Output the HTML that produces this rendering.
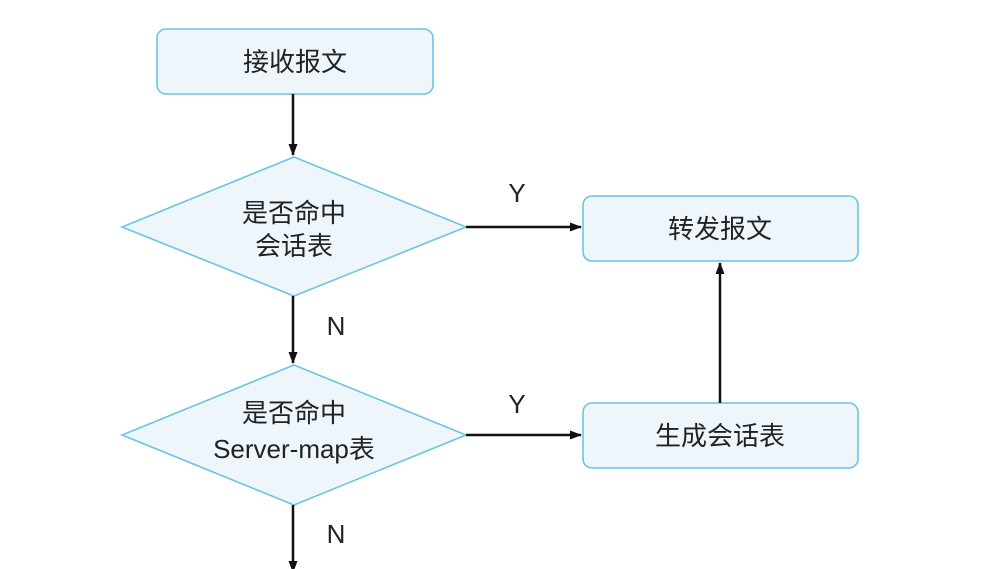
<!DOCTYPE html><html><head><meta charset="utf-8"><style>body{margin:0;background:#fff}svg{display:block}text{font-family:"Liberation Sans","Noto Sans CJK SC",sans-serif;fill:#222}</style></head><body>
<svg width="986" height="569" viewBox="0 0 986 569">
<defs><marker id="a" markerWidth="12" markerHeight="12" refX="11" refY="6" orient="auto" markerUnits="userSpaceOnUse"><path d="M0,1.5 L12,6 L0,10.5 Z" fill="#111"/></marker></defs>
<g fill="#eef6fc" stroke="#6cc4e0" stroke-width="1.6">
<rect x="157" y="29" width="276" height="65" rx="9"/>
<rect x="583" y="196" width="275" height="65" rx="9"/>
<rect x="583" y="403" width="275" height="65" rx="9"/>
<polygon points="294,157 466,227 294,296 122,227"/>
<polygon points="294,365 466,435 294,505 122,435"/>
</g>
<g stroke="#111" stroke-width="2.5" fill="none">
<line x1="293" y1="94" x2="293" y2="155" marker-end="url(#a)"/>
<line x1="293" y1="296" x2="293" y2="363" marker-end="url(#a)"/>
<line x1="293" y1="505" x2="293" y2="572" marker-end="url(#a)"/>
<line x1="466" y1="227" x2="581" y2="227" marker-end="url(#a)"/>
<line x1="466" y1="435" x2="581" y2="435" marker-end="url(#a)"/>
<line x1="720" y1="403" x2="720" y2="263" marker-end="url(#a)"/>
</g>
<g font-size="26" text-anchor="middle">
<text x="295" y="71">接收报文</text>
<text x="720" y="238">转发报文</text>
<text x="720" y="445">生成会话表</text>
<text x="294" y="222">是否命中</text>
<text x="294" y="255">会话表</text>
<text x="294" y="422">是否命中</text>
<text x="294" y="458">Server-map表</text>
<text x="517" y="202">Y</text>
<text x="517" y="413">Y</text>
<text x="336" y="335">N</text>
<text x="336" y="543">N</text>
</g>
</svg></body></html>
